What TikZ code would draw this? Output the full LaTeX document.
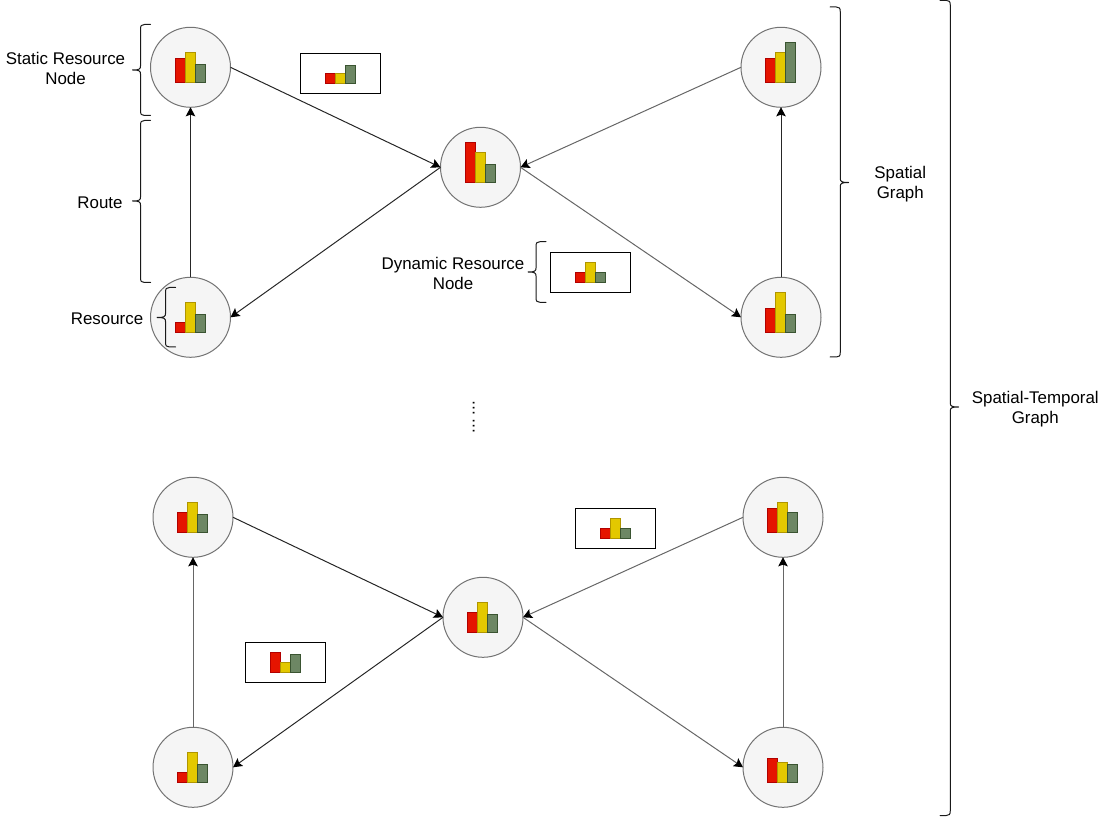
\documentclass[tikz,border=0pt]{standalone}
\usepackage{fontspec}
\setmainfont{Liberation Sans}
\usetikzlibrary{arrows.meta}
\definecolor{barred}{HTML}{E51400}\definecolor{barredl}{HTML}{B20000}
\definecolor{baryel}{HTML}{E3C800}\definecolor{baryell}{HTML}{B09500}
\definecolor{bargrn}{HTML}{6D8764}\definecolor{bargrnl}{HTML}{3A5431}
\tikzset{
  res/.style={circle,draw=black!55,fill=black!4,line width=1pt,minimum size=80pt,inner sep=0pt,outer sep=0pt},
  dyn/.style={rectangle,draw=black,line width=1pt,fill=white,minimum width=80pt,minimum height=40pt,inner sep=0pt,outer sep=0pt},
  lab/.style={inner sep=0pt,outer sep=0pt,align=center,font=\fontsize{16.9}{20}\selectfont},
  edgedark/.style={-{Stealth[length=9pt,width=9.5pt,inset=1.6pt,color=black]},line width=1pt,draw=black!85},
  edgegray/.style={-{Stealth[length=9pt,width=9.5pt,inset=1.6pt,color=black]},line width=1pt,draw=black!60},
  curly/.style={line width=1pt,draw=black!90,line cap=round},
  barr/.style={fill=barred,draw=barredl,line width=1pt},
  bary/.style={fill=baryel,draw=baryell,line width=1pt},
  barg/.style={fill=bargrn,draw=bargrnl,line width=1pt}
}
% #1 left x, #2 bottom y, #3 #4 #5 heights
\newcommand{\resbars}[5]{
  \draw[barr] (#1,#2) rectangle ({#1+10},{#2-#3});
  \draw[bary] ({#1+10},#2) rectangle ({#1+20},{#2-#4});
  \draw[barg] ({#1+20},#2) rectangle ({#1+30},{#2-#5});
}
% #1 end x, #2 spine x, #3 tip x, #4 top y, #5 tip y, #6 bottom y, #7 side sign
\newcommand{\curlybrace}[7]{
  \draw[curly] (#1,#4) -- ({#2+#7*4},#4) .. controls ({#2+#7*1},#4) and (#2,{#4+1}) .. (#2,{#4+5})
    -- (#2,{#5-4}) .. controls (#2,{#5-1}) and ({#2-#7*1},#5) .. (#3,#5)
    (#3,#5) .. controls ({#2-#7*1},#5) and (#2,{#5+1}) .. (#2,{#5+4})
    -- (#2,{#6-5}) .. controls (#2,{#6-1}) and ({#2+#7*1},#6) .. ({#2+#7*4},#6) -- (#1,#6);
}
\begin{document}
\begin{tikzpicture}[x=1pt,y=-1pt]
\useasboundingbox (0,0) rectangle (1101,818);
% upper graph
\node[res] (a1) at (190.5,67.3) {};
\node[res] (a2) at (480.5,167.3) {};
\node[res] (a3) at (190.5,317.3) {};
\node[res] (a4) at (781,67.3) {};
\node[res] (a5) at (781,317.3) {};
\draw[edgedark] (a1.east) -- (a2.west);
\draw[edgedark] (a2.west) -- (a3.east);
\draw[edgedark] (a3.north) -- (a1.south);
\draw[edgegray] (a4.west) -- (a2.east);
\draw[edgegray] (a2.east) -- (a5.west);
\draw[edgedark] (a5.north) -- (a4.south);
\resbars{175.2}{82.5}{24}{30}{18}
\resbars{465.2}{182.4}{40}{30}{18}
\resbars{175.2}{332.5}{10}{30}{18}
\resbars{765.5}{82.5}{24}{30}{40}
\resbars{765.5}{332.5}{24}{40}{18}
\node[dyn] (b1) at (340.5,73.3) {};
\resbars{325.4}{83.4}{10}{10}{18}
\node[dyn] (b2) at (590.5,272.4) {};
\resbars{575.4}{282.6}{10}{20}{10}
% lower graph
\node[res] (c1) at (193,517.3) {};
\node[res] (c2) at (483,617.3) {};
\node[res] (c3) at (193,767.3) {};
\node[res] (c4) at (783,517.3) {};
\node[res] (c5) at (783,767.3) {};
\draw[edgedark] (c1.east) -- (c2.west);
\draw[edgedark] (c2.west) -- (c3.east);
\draw[edgegray] (c3.north) -- (c1.south);
\draw[edgegray] (c4.west) -- (c2.east);
\draw[edgegray] (c2.east) -- (c5.west);
\draw[edgegray] (c5.north) -- (c4.south);
\resbars{177.8}{532.7}{20}{30}{18}
\resbars{467.8}{632.7}{20}{30}{18}
\resbars{177.8}{782.7}{10}{30}{18}
\resbars{767.8}{532.7}{24}{30}{20}
\resbars{767.8}{782.7}{24}{20}{18}
\node[dyn] (d1) at (285.4,662.3) {};
\resbars{270.4}{672.7}{20}{10}{18}
\node[dyn] (d2) at (615.4,528.3) {};
\resbars{600.4}{538.7}{10}{20}{10}
% braces
\curlybrace{150.5}{140.5}{132.5}{24.5}{70}{115.5}{1}
\curlybrace{150.5}{140.5}{132.5}{120.5}{201}{282.5}{1}
\curlybrace{175.5}{165.5}{157}{287.5}{317.5}{347}{1}
\curlybrace{546}{536}{528}{241.7}{272}{302.3}{1}
\curlybrace{830}{840.3}{848.7}{7}{182.5}{357}{-1}
\curlybrace{940}{950.3}{958.7}{0.4}{407}{815.5}{-1}
% labels
\node[lab] (l1) at (65.5,68) {Static Resource\\Node};
\node[lab] (l2) at (100,202.5) {Route};
\node[lab] (l3) at (107,318.5) {Resource};
\node[lab] (l4) at (453,273.5) {Dynamic Resource\\Node};
\node[lab] (l5) at (900.3,184) {Spatial\\Graph};
\node[lab] (l6) at (1035.3,409) {Spatial-Temporal\\Graph};
\node[lab,rotate=90] (l7) at (473.7,408) {...};
\node[lab,rotate=90] (l8) at (473.7,426) {...};
\end{tikzpicture}
\end{document}
